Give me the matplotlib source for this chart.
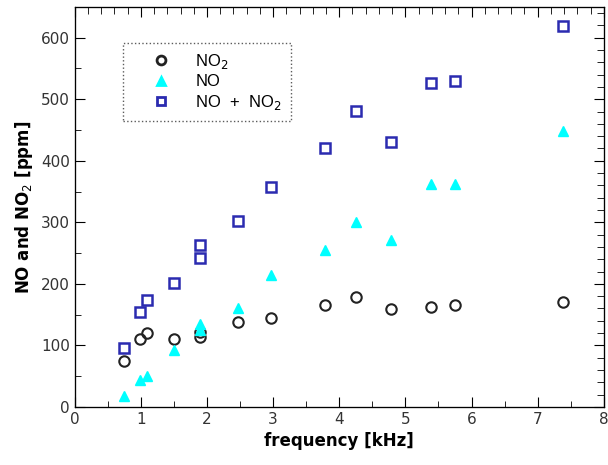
import matplotlib.pyplot as plt
from matplotlib.ticker import MultipleLocator

# frequency in kHz and concentrations in ppm
freq = [0.74, 0.98, 1.09, 1.50, 1.89, 1.89, 2.47, 2.97, 3.78, 4.25, 4.78, 5.39, 5.75, 7.38]
no2 = [75, 110, 120, 110, 113, 121, 138, 144, 165, 178, 159, 162, 165, 170]
no = [18, 44, 50, 92, 125, 134, 160, 214, 255, 301, 272, 362, 362, 448]
nox = [96, 154, 174, 201, 242, 263, 302, 358, 421, 481, 431, 527, 530, 619]

fig = plt.figure(figsize=(6.08, 4.65), dpi=100)
ax = fig.add_axes([0.123, 0.125, 0.870, 0.860])

ax.plot(freq, no2, 'o', ls='none', mfc='none', mec='#222222', mew=1.5, ms=7.5, label='NO$_2$')
ax.plot(freq, no, '^', ls='none', mfc='cyan', mec='cyan', ms=7.5, label='NO')
ax.plot(freq, nox, 's', ls='none', mfc='none', mec='#2b2bb0', mew=1.8, ms=7.5, label='NO  +  NO$_2$')

ax.set_xlim(0, 8)
ax.set_ylim(0, 650)
ax.xaxis.set_major_locator(MultipleLocator(1))
ax.xaxis.set_minor_locator(MultipleLocator(0.5))
ax.yaxis.set_major_locator(MultipleLocator(100))
ax.yaxis.set_minor_locator(MultipleLocator(50))
ax.tick_params(which='both', direction='in', top=False, right=False, labelsize=11, labelcolor='#333333')
ax.tick_params(which='major', length=7)
ax.tick_params(which='minor', length=4)

# top/right ticks use a finer spacing
tx = ax.twiny()
tx.set_xlim(ax.get_xlim())
tx.xaxis.set_major_locator(MultipleLocator(1))
tx.xaxis.set_minor_locator(MultipleLocator(0.2))
tx.tick_params(which='both', direction='in', labeltop=False)
tx.tick_params(which='major', length=7)
tx.tick_params(which='minor', length=5)
ty = ax.twinx()
ty.set_ylim(ax.get_ylim())
ty.yaxis.set_major_locator(MultipleLocator(100))
ty.yaxis.set_minor_locator(MultipleLocator(20))
ty.tick_params(which='both', direction='in', labelright=False)
ty.tick_params(which='major', length=7)
ty.tick_params(which='minor', length=5)

ax.set_xlabel('frequency [kHz]', fontsize=12, fontweight='bold')
ax.set_ylabel('NO and NO$_2$ [ppm]', fontsize=12, fontweight='bold')

leg = ax.legend(loc='upper left', bbox_to_anchor=(0.091, 0.91),
                frameon=True, fancybox=False, borderpad=0.55, borderaxespad=0,
                handlelength=3.5, handletextpad=0.3, labelspacing=0.2, markerscale=0.85,
                prop={'family': 'Liberation Sans', 'size': 12})
leg.get_frame().set_linestyle(':')
leg.get_frame().set_edgecolor('#333333')
for h in leg.legend_handles:
    h.set_markeredgewidth(2.0)

plt.savefig('out.png', dpi=100)
